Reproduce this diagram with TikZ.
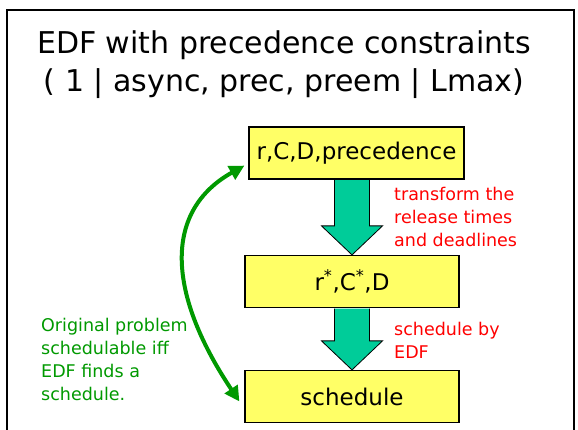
\documentclass[tikz,border=0pt]{standalone}
\usepackage{fontspec}
\setmainfont{DejaVu Sans}
\usetikzlibrary{arrows.meta,calc}
\definecolor{boxyellow}{RGB}{255,255,102}
\definecolor{flowteal}{RGB}{0,204,153}
\definecolor{notegreen}{RGB}{0,153,0}
\begin{document}
\begin{tikzpicture}[x=1pt, y=1pt,
            stage/.style={draw, line width=1.2pt, fill=boxyellow, minimum width=214pt,
                minimum height=52pt, inner sep=0pt, font=\fontsize{23}{28}\selectfont},
            note/.style={align=left, anchor=north west, inner sep=0pt,
                font=\fontsize{17.5}{23}\selectfont}]
            \useasboundingbox (0,0) rectangle (578,430);
            \draw[line width=1.5pt] (7,-5) -- (7,420) -- (574,420) -- (574,-5);
            \node[align=center, font=\fontsize{30}{38}\selectfont] (title) at (284,365)
                {EDF with precedence constraints\\( 1 | async, prec, preem | Lmax)};
            \node[stage, minimum width=215pt] (orig) at (356.5,277) {r,C,D,precedence};
            \node[stage] (mod) at (352,148.5) {r\textsuperscript{*},C\textsuperscript{*},D};
            \node[stage] (sched) at (352,33.5) {schedule};
            \foreach \a/\b in {orig/mod, mod/sched}
                \draw[fill=flowteal, line width=.8pt]
                    ($(\a.south -| \b.north)+(-17.5,-.6)$) -- ($(\b.north)+(-17.5,29)$)
                    -- ($(\b.north)+(-30.5,29)$) -- (\b.north) -- ($(\b.north)+(30.5,29)$)
                    -- ($(\b.north)+(17.5,29)$) -- ($(\a.south -| \b.north)+(17.5,-.6)$);
            \node[note, text=red] (why) at (394,243) {transform the\\release times\\and deadlines};
            \node[note, text=red] (how) at (394,108) {schedule by\\EDF};
            \node[note, text=notegreen] (claim) at (41,112)
                {Original problem\\schedulable iff\\EDF finds a\\schedule.};
            \draw[notegreen, line width=4pt,
                {Triangle[length=15pt,width=15pt]}-{Triangle[length=15pt,width=15pt]}]
                ($(orig.south west)+(-4,14)$) .. controls (165,220) and (165,140)
                .. ($(sched.west)+(-5,-5)$);
        \end{tikzpicture}
\end{document}
